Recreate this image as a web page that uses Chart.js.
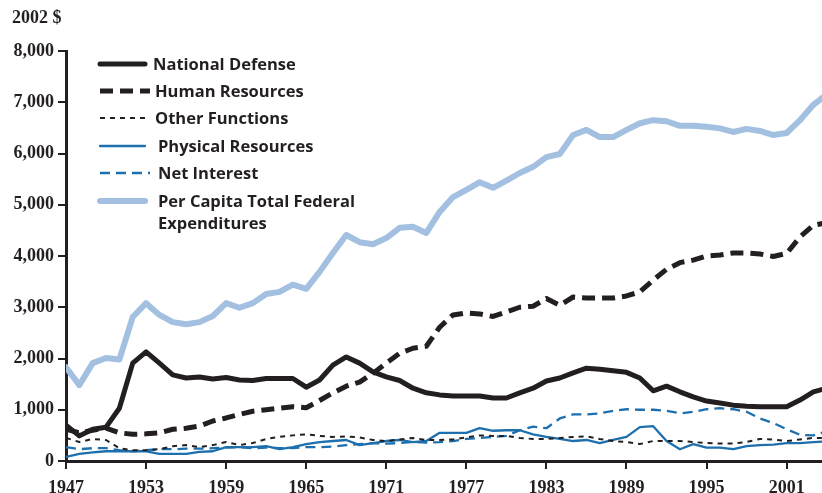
<!DOCTYPE html>
<html>
<head>
<meta charset="utf-8">
<script src="https://cdn.jsdelivr.net/npm/chart.js@4"></script>
<style>
  html, body { margin: 0; padding: 0; background: #fff; }
  .wrap { position: relative; width: 822px; height: 493px; }
  .unit {
    position: absolute; left: 12px; top: 7px;
    font: bold 18px "Liberation Serif", serif; color: #231f20;
  }
  .legend {
    position: absolute; left: 96px; top: 54px;
    font: bold 16.5px "Open Sans", sans-serif; color: #231f20;
  }
  .legend-row { position: absolute; left: 0; white-space: nowrap; line-height: 20px; }
  .legend-row svg { position: absolute; left: 0; top: 0; }
  .legend-row span { position: absolute; top: -1px; line-height: 22px; }
</style>
</head>
<body>
<div class="wrap">
  <canvas id="myChartSpending" width="822" height="493"></canvas>
  <div class="unit">2002 $</div>
  <div class="legend" id="legend"></div>
</div>
<script>
const years = [];
for (let y = 1947; y <= 2004; y += 1) years.push(y);

const xTickYears = [1947, 1953, 1959, 1965, 1971, 1977, 1983, 1989, 1995, 2001];

const nationalDefense = [
  700, 490, 620, 660, 1030, 1910, 2130, 1910, 1680, 1620,
  1640, 1600, 1630, 1580, 1570, 1610, 1610, 1610, 1440, 1580,
  1870, 2030, 1910, 1740, 1640, 1570, 1420, 1330, 1290, 1270,
  1270, 1270, 1230, 1230, 1330, 1420, 1560, 1620, 1720, 1810,
  1790, 1760, 1730, 1620, 1370, 1460, 1350, 1250, 1170, 1130,
  1090, 1070, 1060, 1060, 1060, 1190, 1350, 1420,
];
const humanResources = [
  620, 550, 600, 640, 550, 520, 530, 550, 620, 640,
  680, 780, 840, 910, 970, 1000, 1030, 1060, 1040, 1180,
  1330, 1460, 1540, 1710, 1910, 2100, 2200, 2240, 2610, 2850,
  2890, 2870, 2820, 2910, 3000, 3020, 3170, 3040, 3200, 3180,
  3180, 3180, 3220, 3300, 3530, 3740, 3870, 3920, 4000, 4020,
  4060, 4060, 4040, 3990, 4050, 4370, 4600, 4650,
];
const otherFunctions = [
  450, 370, 430, 410, 250, 210, 210, 230, 290, 310,
  270, 310, 370, 310, 350, 430, 470, 500, 520, 490,
  470, 480, 460, 410, 390, 420, 450, 410, 410, 420,
  460, 500, 490, 490, 450, 430, 430, 450, 470, 480,
  430, 390, 370, 330, 390, 390, 390, 370, 350, 340,
  340, 370, 430, 420, 390, 420, 450, 450,
];
const physicalResources = [
  80, 140, 170, 190, 190, 190, 190, 140, 140, 140,
  180, 190, 270, 270, 270, 290, 230, 270, 330, 370,
  390, 410, 310, 350, 390, 410, 370, 390, 550, 550,
  550, 640, 590, 600, 600, 520, 470, 430, 390, 410,
  350, 410, 470, 660, 680, 390, 230, 330, 260, 260,
  230, 290, 310, 320, 350, 350, 370, 380,
];
const netInterest = [
  270, 230, 250, 250, 210, 190, 210, 230, 230, 240,
  240, 250, 260, 270, 250, 260, 250, 250, 270, 270,
  280, 310, 330, 350, 340, 350, 370, 360, 370, 390,
  430, 450, 470, 490, 600, 670, 640, 830, 910, 910,
  930, 980, 1010, 1000, 1000, 980, 930, 960, 1010, 1030,
  1010, 960, 830, 740, 620, 510, 500, 580,
];
const perCapitaTotal = [
  1830, 1480, 1910, 2010, 1980, 2810, 3080, 2850, 2710, 2670,
  2710, 2830, 3080, 2990, 3080, 3260, 3300, 3440, 3360, 3690,
  4060, 4410, 4270, 4230, 4350, 4550, 4570, 4450, 4860, 5150,
  5290, 5440, 5330, 5470, 5620, 5740, 5930, 5990, 6360, 6460,
  6320, 6320, 6460, 6590, 6650, 6630, 6540, 6540, 6520, 6490,
  6420, 6480, 6440, 6360, 6400, 6650, 6950, 7150,
];

const black = '#231f20';
const blue = '#1d6fae';
const lightBlue = '#a3c0e1';

const series = [
  { label: 'National Defense', data: nationalDefense, color: black, width: 5, dash: [] },
  { label: 'Human Resources', data: humanResources, color: black, width: 5, dash: [13, 7] },
  { label: 'Other Functions', data: otherFunctions, color: black, width: 2, dash: [5, 5] },
  { label: 'Physical Resources', data: physicalResources, color: blue, width: 2.3, dash: [] },
  { label: 'Net Interest', data: netInterest, color: blue, width: 2.3, dash: [10, 6] },
  { label: ['Per Capita Total Federal', 'Expenditures'], data: perCapitaTotal, color: lightBlue, width: 6, dash: [] },
];

const datasets = series.map((s, i) => ({
  label: Array.isArray(s.label) ? s.label.join(' ') : s.label,
  data: s.data.map((v, j) => ({ x: years[j], y: v })),
  borderColor: s.color,
  backgroundColor: s.color,
  borderWidth: s.width,
  borderDash: s.dash,
  borderJoinStyle: 'round',
  borderCapStyle: s.dash.length ? 'butt' : 'round',
  pointRadius: 0,
  tension: 0,
  order: i,
}));

const tickFont = { family: '"Liberation Serif", serif', size: 18, weight: 'bold' };

new Chart(document.getElementById('myChartSpending'), {
  type: 'line',
  data: { datasets },
  options: {
    responsive: false,
    animation: false,
    layout: { padding: { top: 51, right: 0, bottom: 0, left: 0 } },
    plugins: {
      legend: { display: false },
      tooltip: { enabled: false },
    },
    scales: {
      x: {
        type: 'linear',
        min: 1947,
        max: 2003.65,
        afterBuildTicks: (scale) => {
          scale.ticks = xTickYears.map((v) => ({ value: v }));
        },
        afterFit: (scale) => { scale.height = 32; },
        ticks: {
          color: black,
          font: tickFont,
          padding: 9,
          maxRotation: 0,
          autoSkip: false,
          callback: (v) => String(v),
        },
        grid: {
          drawOnChartArea: false,
          tickLength: 8,
          tickColor: black,
          lineWidth: 2,
        },
        border: { display: true, color: black, width: 3 },
      },
      y: {
        min: 0,
        max: 8000,
        afterFit: (scale) => { scale.width = 66; },
        ticks: {
          stepSize: 1000,
          color: black,
          font: tickFont,
          padding: 4,
          callback: (v) => v.toLocaleString('en-US'),
        },
        grid: {
          drawOnChartArea: false,
          tickLength: 8,
          tickColor: black,
          lineWidth: 2,
        },
        border: { display: true, color: black, width: 3 },
      },
    },
  },
});

// legend drawn as html next to the plot
const legendRows = [
  { top: 0, textLeft: 57 },
  { top: 27, textLeft: 59 },
  { top: 54, textLeft: 59 },
  { top: 82, textLeft: 62 },
  { top: 109, textLeft: 62 },
  { top: 137, textLeft: 62 },
];
const legendEl = document.getElementById('legend');
series.forEach((s, i) => {
  const row = document.createElement('div');
  row.className = 'legend-row';
  row.style.top = `${legendRows[i].top}px`;
  const dash = s.dash.length ? `stroke-dasharray="${s.dash.join(' ')}"` : '';
  const cap = s.dash.length ? 'butt' : 'round';
  row.innerHTML = `<svg width="56" height="20"><line x1="4" y1="10" x2="${s.dash.length ? 54 : 49}" y2="10" stroke="${s.color}" stroke-width="${s.width}" stroke-linecap="${cap}" ${dash}/></svg>`
    + `<span style="left:${legendRows[i].textLeft}px">${[].concat(s.label).join('<br>')}</span>`;
  legendEl.appendChild(row);
});
</script>
</body>
</html>
